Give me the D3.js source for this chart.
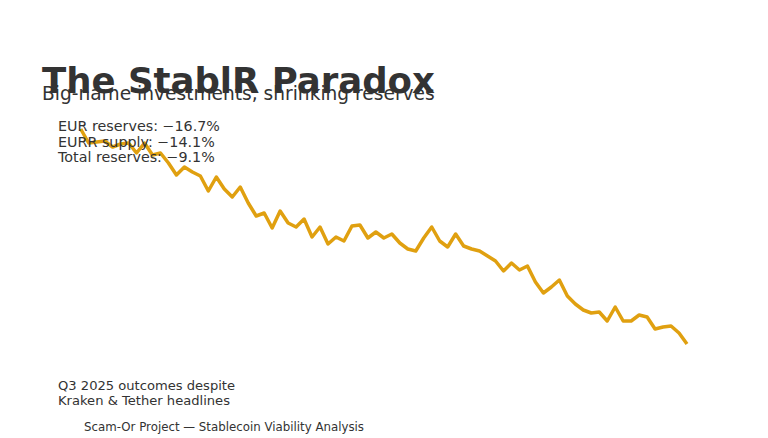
<!DOCTYPE html><html><head><meta charset="utf-8"><script src="https://cdn.jsdelivr.net/npm/d3@7"></script>
<style>body{margin:0;background:#fff}text{font-family:"DejaVu Sans",sans-serif;fill:#333}</style></head><body>
<svg id="c" width="768" height="438"></svg>
<script>
const yPix=[129,143,142,141,147,144,143,153,143,155,153,163,175,167,172,176,191,177,189,197,187,203,216,213,228,211,223,227,219,237,227,244,237,241,226,225,238,232,238,234,243,249,251,238,227,241,247,234,246,249,251,256,261,271,263,270,266,282,293,287,280,296,304,310,313,312,321,307,321,321,315,317,329,327,326,333,344];
const values=yPix.map(y=>400-y);
const notes=["EUR reserves: \u221216.7%","EURR supply: \u221214.1%","Total reserves: \u22129.1%"];
const footnote=["Q3 2025 outcomes despite","Kraken & Tether headlines"];
const svg=d3.select("#c");
const x=d3.scaleLinear().domain([0,values.length-1]).range([80.7,687]);
const y=d3.scaleLinear().domain([56,271]).range([344,129]);
svg.append("path").datum(values).attr("fill","none").attr("stroke","#E0A010").attr("stroke-width",3.5).attr("stroke-linejoin","round")
 .attr("d",d3.line().x((d,i)=>x(i)).y(d=>y(d)));
svg.append("text").attr("x",42).attr("y",93).attr("font-size",35.5).attr("font-weight","bold").text("The StablR Paradox");
svg.append("text").attr("x",42).attr("y",100).attr("font-size",18.6).text("Big-name investments, shrinking reserves");
notes.forEach((t,i)=>svg.append("text").attr("x",58).attr("y",131+i*15.5).attr("font-size",14.3).text(t));
footnote.forEach((t,i)=>svg.append("text").attr("x",58).attr("y",390+i*15).attr("font-size",13.1).text(t));
svg.append("text").attr("x",84).attr("y",431).attr("font-size",11.8).text("Scam-Or Project \u2014 Stablecoin Viability Analysis");
</script></body></html>
